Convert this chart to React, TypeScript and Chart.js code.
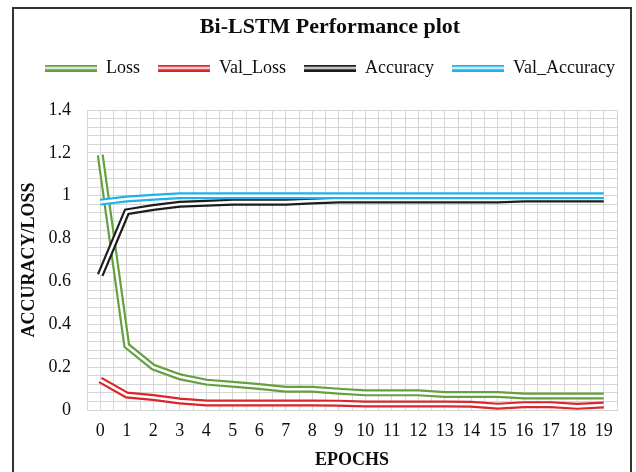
import React, { useEffect, useRef } from "react";
import { Chart, registerables } from "chart.js";

Chart.register(...registerables);

// ---- data ----
const epochs = [0, 1, 2, 3, 4, 5, 6, 7, 8, 9, 10, 11, 12, 13, 14, 15, 16, 17, 18, 19];
const loss = [1.19, 0.3, 0.2, 0.155, 0.13, 0.12, 0.11, 0.097, 0.097, 0.088, 0.08, 0.08, 0.08, 0.072, 0.072, 0.072, 0.065, 0.065, 0.065, 0.065];
const valLoss = [0.14, 0.07, 0.058, 0.042, 0.033, 0.033, 0.033, 0.033, 0.033, 0.032, 0.028, 0.028, 0.028, 0.028, 0.027, 0.018, 0.025, 0.025, 0.017, 0.023];
const accuracy = [0.63, 0.925, 0.945, 0.96, 0.965, 0.97, 0.97, 0.97, 0.975, 0.98, 0.98, 0.98, 0.98, 0.98, 0.98, 0.98, 0.985, 0.985, 0.985, 0.985];
const valAccuracy = [0.97, 0.985, 0.993, 1.0, 1.0, 1.0, 1.0, 1.0, 1.0, 1.0, 1.0, 1.0, 1.0, 1.0, 1.0, 1.0, 1.0, 1.0, 1.0, 1.0];
const seriesNames = ["Loss", "Val_Loss", "Accuracy", "Val_Accuracy"];
const seriesColors = ["#64a040", "#d9262b", "#1c1c1c", "#1eb1ea"];
const chartTitle = "Bi-LSTM Performance plot";
const xTitle = "EPOCHS";
const yTitle = "ACCURACY/LOSS";
const yMin = 0;
const yMax = 1.4;
const yMajorStep = 0.2;
const yMinorStep = 0.04;

const SERIF = "'Liberation Serif', 'Times New Roman', serif";
const GRID = "#d6d6d6";
const TEXT = "#0d0d0d";

function makeSwatch(color: string): HTMLCanvasElement {
  const c = document.createElement("canvas");
  c.width = 52;
  c.height = 7;
  const g = c.getContext("2d")!;
  g.fillStyle = color;
  g.fillRect(0, 0, 52, 7);
  g.fillStyle = "#ffffff";
  g.fillRect(0, 2.5, 52, 2);
  return c;
}

const framePlugin = {
  id: "frame",
  beforeDraw(chart: any) {
    const ctx = chart.ctx;
    ctx.save();
    ctx.fillStyle = "#ffffff";
    ctx.fillRect(0, 0, chart.width, chart.height);
    ctx.strokeStyle = "#333333";
    ctx.lineWidth = 2;
    ctx.strokeRect(13, 8, 618, 500);
    ctx.restore();
  },
};

const legendGapPlugin = {
  id: "legendGap",
  beforeLayout(chart: any) {
    const lg = chart.legend;
    if (lg && !lg.__gap) {
      const orig = lg.fit.bind(lg);
      lg.fit = () => {
        orig();
        lg.height += 23;
      };
      lg.__gap = true;
    }
  },
};

export default function App() {
  const ref = useRef<HTMLCanvasElement>(null);

  useEffect(() => {
    const canvas = ref.current;
    if (!canvas) return;
    const seriesData = [loss, valLoss, accuracy, valAccuracy];
    const datasets: any[] = [];
    seriesData.forEach((d, i) => {
      datasets.push({
        label: seriesNames[i],
        data: d,
        borderColor: seriesColors[i],
        backgroundColor: seriesColors[i],
        borderWidth: 7,
        pointRadius: 0,
        tension: 0,
        fill: false,
        order: 100 - i * 2,
      });
      datasets.push({
        label: seriesNames[i] + " core",
        data: d,
        borderColor: "#ffffff",
        backgroundColor: "#ffffff",
        borderWidth: 2.6,
        pointRadius: 0,
        tension: 0,
        fill: false,
        order: 100 - i * 2 - 1,
      });
    });
    const swatches = seriesColors.map(makeSwatch);

    const chart = new Chart(canvas, {
      type: "line",
      data: { labels: epochs, datasets },
      plugins: [framePlugin, legendGapPlugin],
      options: {
        responsive: false,
        animation: false,
        maintainAspectRatio: false,
        layout: { padding: { top: 10, left: 24, right: 0, bottom: 0 } },
        plugins: {
          title: {
            display: true,
            text: chartTitle,
            color: TEXT,
            font: { family: SERIF, size: 22, weight: "bold" },
            padding: { top: 4, bottom: 0.6 },
          },
          legend: {
            display: true,
            position: "top",
            labels: {
              usePointStyle: true,
              pointStyleWidth: 52,
              padding: 18,
              color: TEXT,
              font: { family: SERIF, size: 18 },
              generateLabels: () =>
                seriesNames.map((n, i) => ({
                  text: n,
                  pointStyle: swatches[i],
                  fillStyle: seriesColors[i],
                  strokeStyle: seriesColors[i],
                  lineWidth: 0,
                  hidden: false,
                  datasetIndex: i * 2,
                  fontColor: TEXT,
                })),
            },
          },
          tooltip: { enabled: false },
        },
        scales: {
          x: {
            type: "linear",
            min: -0.5,
            max: 19.5,
            afterFit: (s: any) => {
              s.height = 62;
            },
            grid: { color: GRID, drawTicks: false, lineWidth: 1 },
            border: { color: GRID },
            ticks: {
              stepSize: 0.5,
              autoSkip: false,
              maxRotation: 0,
              padding: 10,
              color: TEXT,
              font: { family: SERIF, size: 18 },
              callback: (v: any) => {
                const n = Number(v);
                const idx = epochs.indexOf(n);
                return idx >= 0 ? String(epochs[idx]) : "";
              },
            },
            title: {
              display: true,
              text: xTitle,
              color: TEXT,
              font: { family: SERIF, size: 18, weight: "bold" },
              padding: { top: 0, bottom: 1 },
            },
          },
          y: {
            type: "linear",
            min: yMin,
            max: yMax,
            afterFit: (s: any) => {
              s.width = 63;
            },
            grid: { color: GRID, drawTicks: false, lineWidth: 1 },
            border: { color: GRID },
            ticks: {
              stepSize: yMinorStep,
              autoSkip: false,
              padding: 16,
              color: TEXT,
              font: { family: SERIF, size: 18 },
              callback: (v: any) => {
                const n = Number(v);
                const r = n / yMajorStep;
                return Math.abs(r - Math.round(r)) < 1e-6 ? String(Math.round(n * 10) / 10) : "";
              },
            },
            title: {
              display: true,
              text: yTitle,
              color: TEXT,
              font: { family: SERIF, size: 18, weight: "bold" },
              padding: { top: -5, bottom: 0 },
            },
          },
          yRight: {
            type: "linear",
            position: "right",
            display: true,
            grid: { display: false, drawOnChartArea: false },
            ticks: { display: false },
            border: { display: false },
            afterFit: (s: any) => {
              s.width = 19;
            },
          },
        },
      } as any,
    });
    return () => chart.destroy();
  }, []);

  return (
    <div style={{ position: "fixed", left: 0, top: 0, width: 636, height: 472, background: "#fff" }}>
      <canvas ref={ref} width={636} height={472} style={{ display: "block" }} />
    </div>
  );
}
